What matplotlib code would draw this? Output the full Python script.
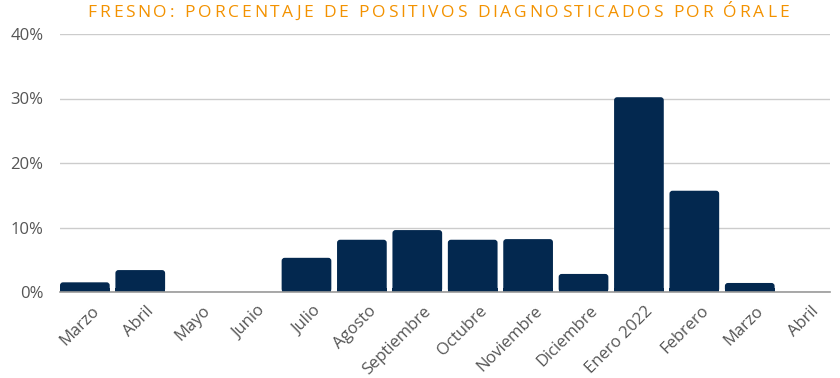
import matplotlib
matplotlib.use("Agg")
import matplotlib.pyplot as plt
import matplotlib.transforms as mtransforms
from matplotlib.patches import FancyBboxPatch
from matplotlib.textpath import TextPath
from matplotlib.font_manager import FontProperties

categories = ["Marzo", "Abril", "Mayo", "Junio", "Julio", "Agosto", "Septiembre",
              "Octubre", "Noviembre", "Diciembre", "Enero 2022", "Febrero", "Marzo", "Abril"]
values = [1.5, 3.4, 0, 0, 5.3, 8.1, 9.6, 8.1, 8.2, 2.8, 30.2, 15.7, 1.4, 0]
yticks = [0, 10, 20, 30, 40]
ytick_labels = ["0%", "10%", "20%", "30%", "40%"]
title = "FRESNO: PORCENTAJE DE POSITIVOS DIAGNOSTICADOS POR ÓRALE"

bar_color = "#03284F"
title_color = "#F39200"
text_color = "#555555"

fig = plt.figure(figsize=(8.4, 3.78), dpi=100)
ax = fig.add_axes([60 / 840, 1 - 292 / 378, 770 / 840, 258 / 378])

width = 0.897
n = len(categories)
for i, v in enumerate(values):
    if v <= 0:
        continue
    x0 = i - width / 2
    p = FancyBboxPatch((x0, 0), width, v,
                       boxstyle="round,pad=0,rounding_size=0.055",
                       mutation_aspect=8.5,
                       facecolor=bar_color, edgecolor="none", zorder=3)
    ax.add_patch(p)
# square bottoms
ax.bar(range(n), [min(v, 0.6) for v in values], width=width, color=bar_color, zorder=3)

ax.set_xlim(-width / 2, n - 1 + width / 2)
ax.set_ylim(0, 40)
ax.set_yticks(yticks)
ax.set_yticklabels(ytick_labels)
ax.set_xticks(range(n))
ax.set_xticklabels(categories, rotation=45, ha="right", rotation_mode="anchor")
ax.grid(axis="y", color="#cccccc", linewidth=1, zorder=0)
for s in ["top", "right", "left"]:
    ax.spines[s].set_visible(False)
ax.spines["bottom"].set_color("#999999")
ax.spines["bottom"].set_linewidth(1.2)
ax.spines["bottom"].set_zorder(4)
ax.tick_params(axis="both", length=0, colors=text_color, labelsize=12)
ax.tick_params(axis="x", pad=8)
ax.tick_params(axis="y", pad=12)
off = mtransforms.ScaledTranslation(6 / 100, 0, fig.dpi_scale_trans)
for lab in ax.get_xticklabels():
    lab.set_fontfamily("Open Sans")
    lab.set_transform(lab.get_transform() + off)
for lab in ax.get_yticklabels():
    lab.set_fontfamily("Open Sans")

# Title with letter spacing fitted to the reference width
fp = FontProperties(family="Open Sans", size=12.5)
target_width = 701.0
base = TextPath((0, 0), "||", prop=fp).get_extents().width
advs = []
for ch in title:
    adv = TextPath((0, 0), "|" + ch + "|", prop=fp).get_extents().width - base
    advs.append(adv * 100 / 72)
spacing = (target_width - sum(advs)) / (len(title) - 1)
x = 438 - target_width / 2
for ch, a in zip(title, advs):
    fig.text(x / 840, 1 - 13 / 378, ch, fontproperties=fp, color=title_color,
             ha="left", va="center")
    x += a + spacing

fig.savefig("out.png", dpi=100)
